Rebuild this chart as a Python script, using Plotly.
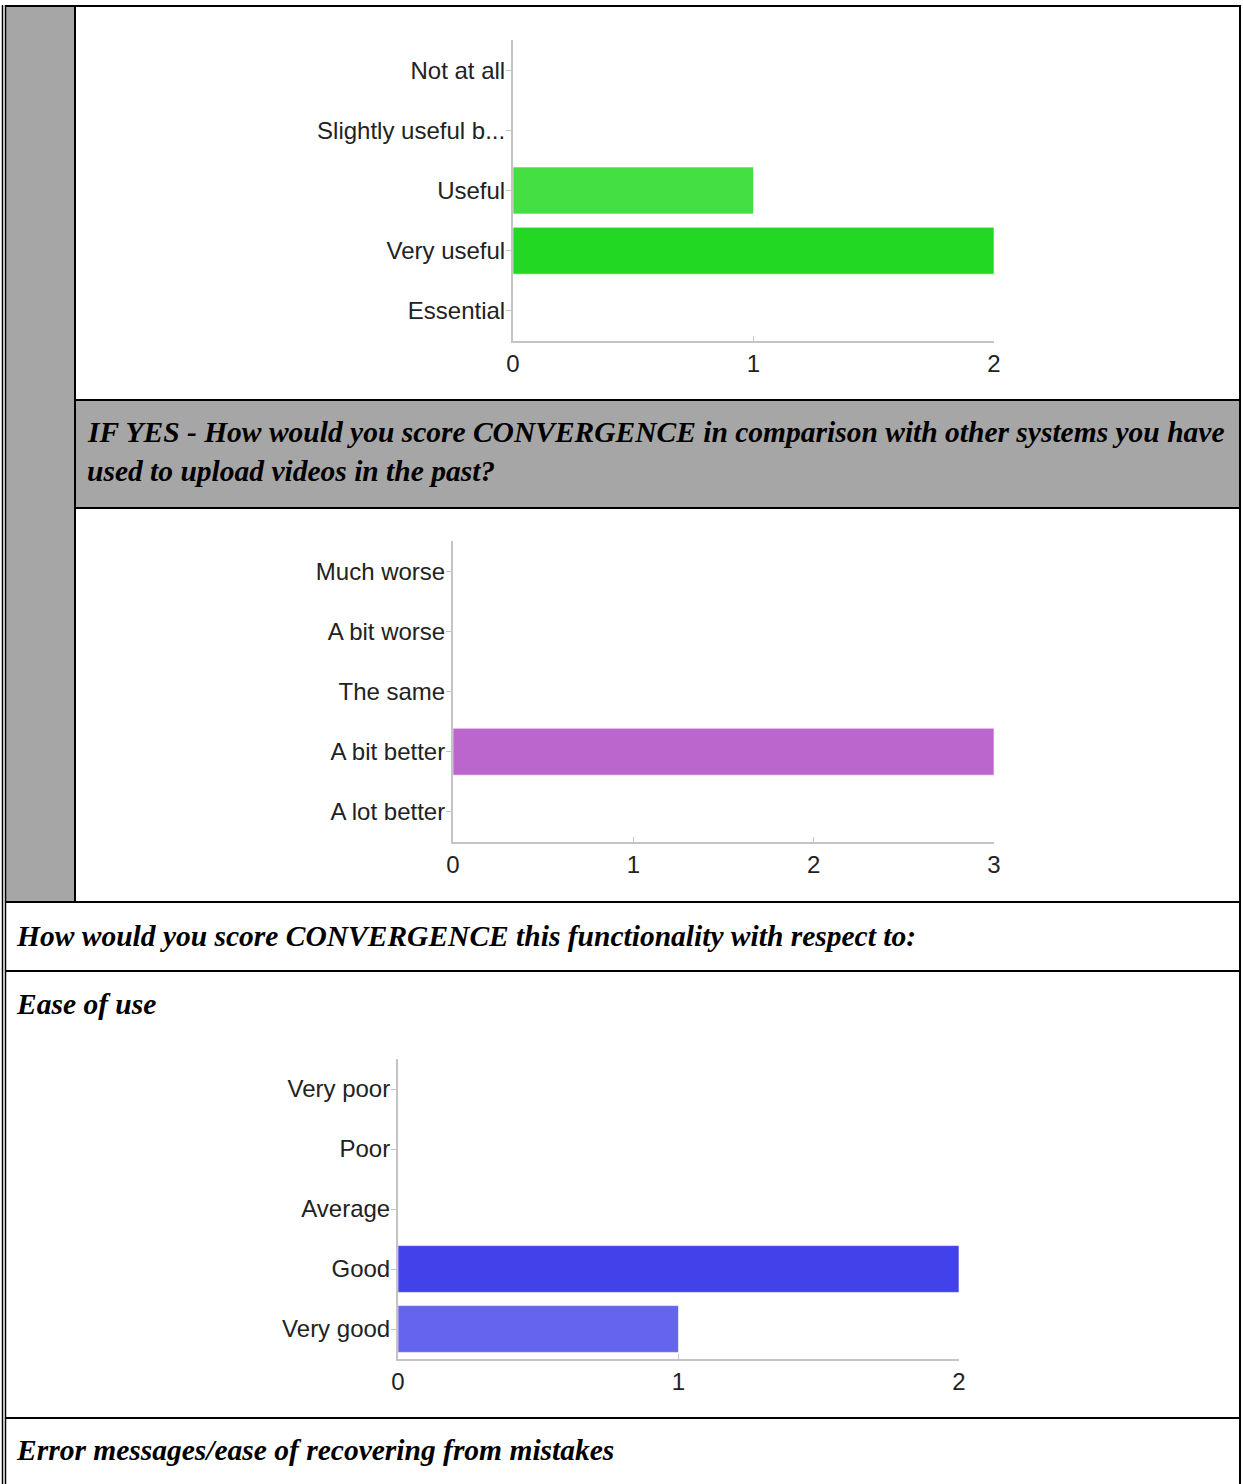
import plotly.graph_objects as go

W, H = 1243, 1484

# Chart 1: usefulness
useful_cats = ["Not at all", "Slightly useful b...", "Useful", "Very useful", "Essential"]
useful_vals = [0, 0, 1, 2, 0]
useful_colors = ["#66ee66", "#55e655", "#43df43", "#22d822", "#11c811"]

# Chart 2: comparison with other systems
compare_cats = ["Much worse", "A bit worse", "The same", "A bit better", "A lot better"]
compare_vals = [0, 0, 0, 3, 0]
compare_colors = ["#bb66cc", "#bb66cc", "#bb66cc", "#bb66cc", "#bb66cc"]

# Chart 3: ease of use
ease_cats = ["Very poor", "Poor", "Average", "Good", "Very good"]
ease_vals = [0, 0, 0, 2, 1]
ease_colors = ["#2a2ae0", "#3434e4", "#3c3ce8", "#4242eb", "#6464ee"]

header_text = "IF YES - How would you score CONVERGENCE in comparison with other systems you have"
header_text2 = "used to upload videos in the past?"
row_text = "How would you score CONVERGENCE this functionality with respect to:"
ease_title = "Ease of use"
error_title = "Error messages/ease of recovering from mistakes"


def px_x(x):
    return x / W


def px_y(y):
    return 1 - y / H


fig = go.Figure()

charts = [
    (useful_cats, useful_vals, useful_colors, [513, 994], [40, 341], [0, 2]),
    (compare_cats, compare_vals, compare_colors, [453, 994], [541, 842], [0, 3]),
    (ease_cats, ease_vals, ease_colors, [398, 959], [1059, 1359], [0, 2]),
]

axis_font = dict(family="Liberation Sans, Arial", size=24, color="#222222")

for i, (cats, vals, cols, xd, yd, xr) in enumerate(charts):
    n = "" if i == 0 else str(i + 1)
    fig.add_trace(go.Bar(
        x=vals, y=cats, orientation="h",
        marker=dict(color=cols, line=dict(color="rgba(255,255,255,0.6)", width=1)),
        xaxis="x" + n, yaxis="y" + n, showlegend=False,
    ))
    fig.layout["xaxis" + n] = dict(
        domain=[px_x(xd[0]), px_x(xd[1])], anchor="y" + n, range=xr,
        tickvals=list(range(xr[1] + 1)), showgrid=False, zeroline=False,
        showline=True, linecolor="#c4c4c4", linewidth=2, automargin=False,
        ticks="inside", ticklen=5, tickcolor="#c4c4c4", tickfont=axis_font,
    )
    fig.layout["yaxis" + n] = dict(
        domain=[px_y(yd[1]), px_y(yd[0])], anchor="x" + n,
        autorange="reversed", type="category", showgrid=False,
        showline=True, linecolor="#c4c4c4", linewidth=2, automargin=False,
        ticks="outside", ticklen=5, tickcolor="#c4c4c4", tickfont=axis_font,
        ticklabelstandoff=-4,
    )

GRAY = "#a6a6a6"
shapes = []


def rect(x0, y0, x1, y1, color):
    shapes.append(dict(type="rect", xref="paper", yref="paper",
                       x0=px_x(x0), x1=px_x(x1), y0=px_y(y1), y1=px_y(y0),
                       fillcolor=color, line=dict(width=0), layer="below"))


def line(x0, y0, x1, y1, w=2):
    shapes.append(dict(type="line", xref="paper", yref="paper",
                       x0=px_x(x0), x1=px_x(x1), y0=px_y(y0), y1=px_y(y1),
                       line=dict(color="black", width=w)))


# gray side column and header band
rect(6, 6, 74, 902, GRAY)
rect(76, 401, 1239, 507, GRAY)

# table borders
line(2.5, 5, 2.5, H, 1.5)
line(5.5, 5, 5.5, H, 1.5)
line(5, 6, 1241, 6)
line(75, 6, 75, 902)
line(1240, 6, 1240, H)
line(75, 400, 1240, 400)
line(75, 508, 1240, 508)
line(5, 902, 1240, 902)
line(5, 971, 1240, 971)
line(5, 1418, 1240, 1418)

serif = dict(family="Liberation Serif, Times New Roman", size=29.5, color="black")
annotations = []
for txt, x, y in [(header_text, 85, 432), (header_text2, 85, 471),
                  (row_text, 14, 936), (ease_title, 14, 1004),
                  (error_title, 14, 1450)]:
    annotations.append(dict(text="<b><i>" + txt + "</i></b>", x=px_x(x), y=px_y(y),
                            xref="paper", yref="paper", xanchor="left", yanchor="middle",
                            showarrow=False, font=serif))

fig.update_layout(
    width=W, height=H, margin=dict(l=0, r=0, t=0, b=0, autoexpand=False),
    paper_bgcolor="white", plot_bgcolor="white",
    bargap=0.22, shapes=shapes, annotations=annotations,
)

# drop the default page margin so the figure starts at the window corner
fig.write_html("out.html", config={"displayModeBar": False},
               post_script="document.body.style.margin='0';")
